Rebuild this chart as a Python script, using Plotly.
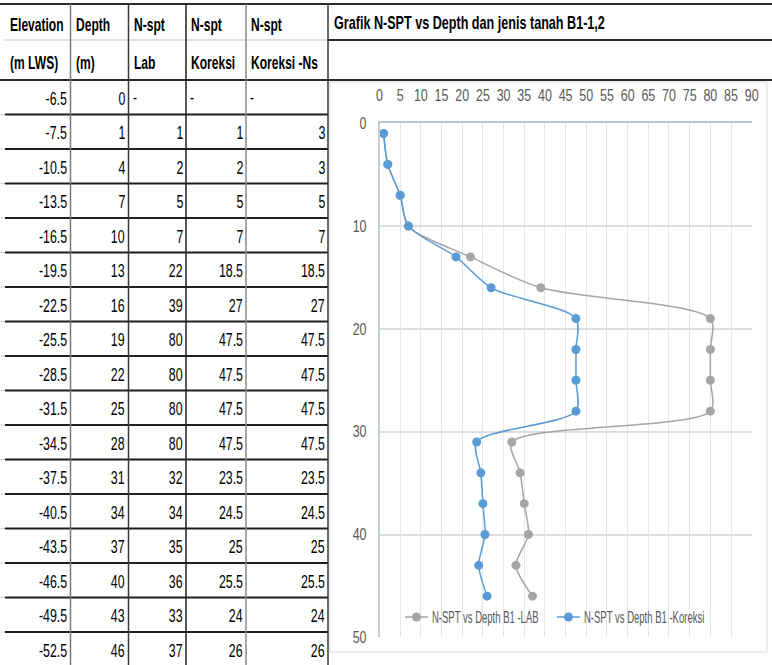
import plotly.graph_objects as go

W, H = 772, 665

# ---- data -------------------------------------------------------------
header_top = ["Elevation", "Depth", "N-spt", "N-spt", "N-spt"]
header_bottom = ["(m LWS)", "(m)", "Lab", "Koreksi", "Koreksi -Ns"]

elevation = [-6.5, -7.5, -10.5, -13.5, -16.5, -19.5, -22.5, -25.5, -28.5,
             -31.5, -34.5, -37.5, -40.5, -43.5, -46.5, -49.5, -52.5]
depth = [0, 1, 4, 7, 10, 13, 16, 19, 22, 25, 28, 31, 34, 37, 40, 43, 46]
n_lab = [None, 1, 2, 5, 7, 22, 39, 80, 80, 80, 80, 32, 34, 35, 36, 33, 37]
n_koreksi = [None, 1, 2, 5, 7, 18.5, 27, 47.5, 47.5, 47.5, 47.5,
             23.5, 24.5, 25, 25.5, 24, 26]
n_koreksi_ns = [None, 3, 3, 5, 7, 18.5, 27, 47.5, 47.5, 47.5, 47.5,
                23.5, 24.5, 25, 25.5, 24, 26]

chart_title = "Grafik N-SPT vs Depth dan jenis tanah B1-1,2"
series_names = ["N-SPT vs Depth B1 -LAB", "N-SPT vs Depth B1 -Koreksi"]
series_colors = ["#A5A5A5", "#5B9BD5"]
x_ticks = list(range(0, 91, 5))
y_ticks = list(range(0, 51, 10))

# ---- helpers: pixel -> paper -------------------------------------------
def px(x):
    return x / W


def py(y):
    return 1 - y / H


FONT = "Liberation Sans, Arial"
GRAY_TXT = "#595959"

# table geometry
col_edges = [5, 70.5, 128.5, 186, 246, 328]
row_h = 34.5
n_rows = len(depth)

fig = go.Figure()

# ---- chart traces ------------------------------------------------------
for xs, name, color in zip([n_lab, n_koreksi], series_names, series_colors):
    fig.add_trace(go.Scatter(
        x=xs, y=depth, name=name, mode="lines+markers", showlegend=False,
        line=dict(color=color, width=1.5, shape="spline", smoothing=0.8),
        marker=dict(color=color, size=9),
    ))

shapes = []
annotations = []


def hline(y, x0, x1, color, width):
    shapes.append(dict(type="line", xref="paper", yref="paper",
                       x0=px(x0), x1=px(x1), y0=py(y), y1=py(y),
                       line=dict(color=color, width=width)))


def vline(x, y0, y1, color, width):
    shapes.append(dict(type="line", xref="paper", yref="paper",
                       x0=px(x), x1=px(x), y0=py(y0), y1=py(y1),
                       line=dict(color=color, width=width)))


def label(x, y, text, anchor, size, color="black"):
    annotations.append(dict(x=px(x), y=py(y), xref="paper", yref="paper", text=text,
                            showarrow=False, xanchor=anchor, align=anchor,
                            yanchor="middle", borderpad=0,
                            font=dict(family=FONT, size=size, color=color)))
    return len(annotations) - 1


# chart area frame
shapes.append(dict(type="rect", xref="paper", yref="paper",
                   x0=px(330), x1=px(767), y0=py(652), y1=py(82),
                   line=dict(color="#D9D9D9", width=1), fillcolor="rgba(0,0,0,0)"))

# header rule lines
hline(4, 0, W, "#2b2b2b", 2)
hline(40, col_edges[0], col_edges[-1], "#BDBDBD", 1)
hline(40, col_edges[-1], W, "#2b2b2b", 2)
hline(80, 0, W, "#2b2b2b", 2)

# data row rules
for i in range(1, n_rows):
    y = 80 + row_h * i
    hline(y, 0, col_edges[0], "#D0D0D0", 1)
    hline(y, col_edges[0], col_edges[-1], "#1f1f1f", 2)

# column rules
v_colors = ["#7a7a7a", "#3a3a3a", "#1f1f1f", "#8a8a8a", "#3a3a3a"]
for x, c in zip(col_edges[1:], v_colors):
    vline(x, 4, H, c, 1.5)

# header texts
for j, (t1, t2) in enumerate(zip(header_top, header_bottom)):
    label(col_edges[j] + 4, 25, f"<b>{t1}</b>", "left", 18)
    label(col_edges[j] + 4, 63, f"<b>{t2}</b>", "left", 18)

# data cells
columns = [elevation, depth, n_lab, n_koreksi, n_koreksi_ns]
for i in range(n_rows):
    yc = 80 + row_h * i + row_h / 2 + 1
    for j, col in enumerate(columns):
        v = col[i]
        if v is None:
            label(col_edges[j] + 3, yc, "-", "left", 18)
        else:
            label(col_edges[j + 1] - 2.5, yc, f"{v:g}", "right", 18.5)

# chart title cell
label(333, 23, f"<b>{chart_title}</b>", "left", 18.8)

# legend inside the plot, bottom: line + dot key followed by the series name
legend_y = 617
legend_keys_x = [405, 557]
legend_idx = []
for kx, name, color in zip(legend_keys_x, series_names, series_colors):
    hline(legend_y, kx, kx + 23, color, 1.5)
    shapes.append(dict(type="circle", xref="paper", yref="paper",
                       x0=px(kx + 7), x1=px(kx + 16),
                       y0=py(legend_y + 4.5), y1=py(legend_y - 4.5),
                       fillcolor=color, line=dict(width=0)))
    legend_idx.append(label(kx + 26, legend_y, name, "left", 17, GRAY_TXT))

fig.update_layout(
    width=W, height=H,
    margin=dict(l=0, r=0, t=0, b=0, autoexpand=False),
    paper_bgcolor="white", plot_bgcolor="white",
    shapes=shapes, annotations=annotations,
    showlegend=False,
    xaxis=dict(domain=[px(379.5), px(751.7)], range=[0, 90], side="top", automargin=False,
               tickmode="array", tickvals=x_ticks, ticks="", ticklabelstandoff=14,
               tickangle=0,
               showgrid=True, gridcolor="#E3E6EB", gridwidth=1,
               showline=True, linecolor="#BCC6D4", linewidth=1.5, zeroline=False,
               tickfont=dict(family=FONT, size=16, color=GRAY_TXT)),
    yaxis=dict(domain=[py(637.3), py(123.3)], range=[50, 0], automargin=False,
               tickmode="array", tickvals=y_ticks, ticks="", ticklabelstandoff=8,
               showgrid=True, gridcolor="#D9DDE4", gridwidth=1.5,
               showline=True, linecolor="#C5CDD9", linewidth=1.5, zeroline=False,
               tickfont=dict(family=FONT, size=16, color=GRAY_TXT)),
)

legend_sel = ", ".join(f'g.annotation[data-index="{k}"] text' for k in legend_idx)

# Narrow the glyphs horizontally (condensed look) while keeping each text's anchor edge.
squeeze_js = """
(function(){
  var gd = document.getElementById('{plot_id}');
  var groups = [
    ['LEGEND_SEL', 0.56],
    ['g.annotation text', 0.67],
    ['g.xtick text', 0.78],
    ['g.ytick text', 0.78]
  ];
  function squeeze(){
    groups.forEach(function(g){
      gd.querySelectorAll(g[0]).forEach(function(el){
        var cur = el.getAttribute('transform') || '';
        if (el.__sq && el.__sq === cur) return;
        var x = parseFloat(el.getAttribute('x')) || 0;
        var t = cur + ' translate(' + x + ',0) scale(' + g[1] + ',1) translate(' + (-x) + ',0)';
        el.__sq = t;
        el.setAttribute('transform', t);
      });
    });
  }
  squeeze();
  new MutationObserver(squeeze).observe(gd, {subtree: true, childList: true,
                                              attributes: true, attributeFilter: ['transform', 'x']});
  if (gd.on) gd.on('plotly_afterplot', squeeze);
  requestAnimationFrame(squeeze);
  setTimeout(squeeze, 0);
  setTimeout(squeeze, 200);
})();
""".replace("LEGEND_SEL", legend_sel)

fig.write_html("out.html", post_script=squeeze_js)
